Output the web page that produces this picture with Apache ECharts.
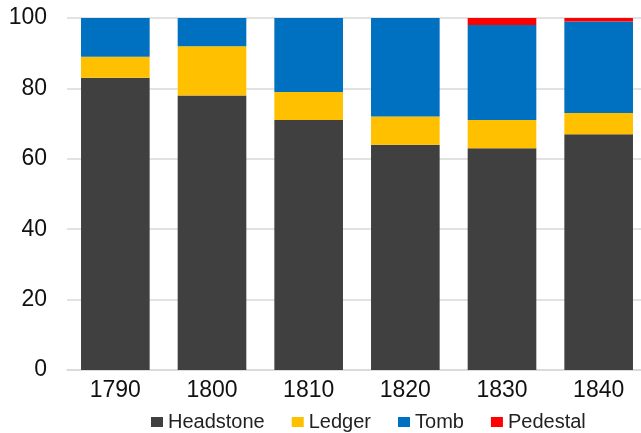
<!DOCTYPE html>
<html>
<head>
<meta charset="utf-8">
<script src="https://cdn.jsdelivr.net/npm/echarts@6/dist/echarts.min.js"></script>
<style>
  html, body { margin: 0; padding: 0; background: #fff; }
  #chart { width: 641px; height: 433px; }
</style>
</head>
<body>
<div id="chart"></div>
<script>
// decades on the x axis
var years = ["1790", "1800", "1810", "1820", "1830", "1840"];

// share of each marker type (percent)
var headstone = [83, 78, 71, 64, 63, 67];
var ledger = [6, 14, 8, 8, 8, 6];
var tomb = [11, 8, 21, 28, 27, 26];
var pedestal = [0, 0, 0, 0, 2, 1];

var yTicks = { min: 0, max: 100, interval: 20 };

var chart = echarts.init(document.getElementById("chart"), null, { renderer: "canvas" });

function bar(name, data, color) {
    return {
        name: name,
        type: "bar",
        stack: "total",
        data: data,
        barCategoryGap: "29%",
        itemStyle: { color: color },
        animation: false
    };
}

chart.setOption({
    backgroundColor: "#fff",
    textStyle: { fontFamily: "Liberation Sans, Arial, sans-serif" },
    grid: {
        left: 67,
        top: 18,
        width: 580,
        bottom: 63,
        outerBoundsMode: "none"
    },
    legend: {
        left: 146,
        top: 407,
        itemWidth: 12,
        itemHeight: 10,
        itemGap: 27,
        icon: "rect",
        textStyle: { fontSize: 20, color: "#222" },
        data: ["Headstone", "Ledger", "Tomb", "Pedestal"]
    },
    xAxis: {
        type: "category",
        data: years,
        axisTick: { show: false },
        axisLine: { lineStyle: { color: "#d9d9d9", width: 1.5 } },
        axisLabel: { fontSize: 23, color: "#111", margin: 9 }
    },
    yAxis: {
        type: "value",
        min: yTicks.min,
        max: yTicks.max,
        interval: yTicks.interval,
        axisLine: { show: false },
        axisTick: { show: false },
        splitLine: { lineStyle: { color: "#d9d9d9", width: 1.5 } },
        axisLabel: { fontSize: 23, color: "#111", margin: 20 }
    },
    series: [
        bar("Headstone", headstone, "#404040"),
        bar("Ledger", ledger, "#FFC000"),
        bar("Tomb", tomb, "#0070C0"),
        bar("Pedestal", pedestal, "#FF0000")
    ]
});
</script>
</body>
</html>
